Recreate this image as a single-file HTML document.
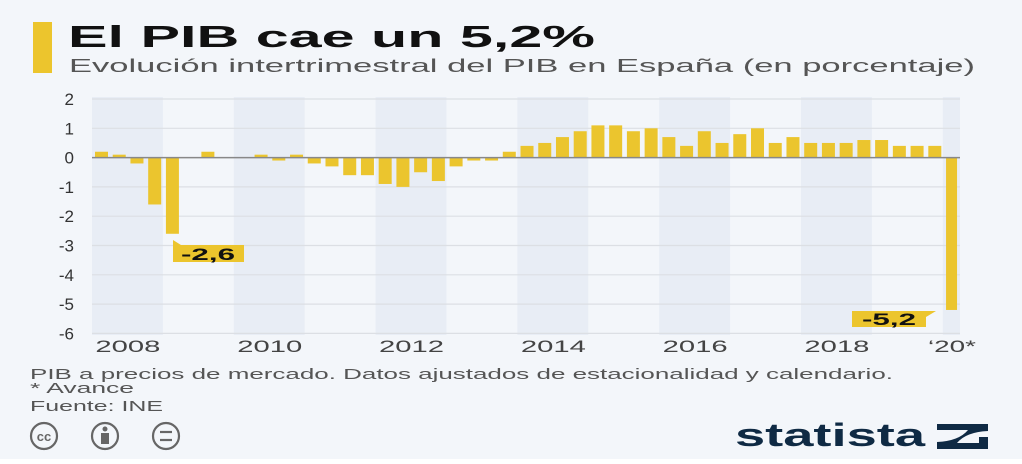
<!DOCTYPE html><html><head><meta charset="utf-8"><style>
body{margin:0;width:1022px;height:464px;background:#fff;overflow:hidden}
svg{display:block;font-family:"Liberation Sans",sans-serif}
</style></head><body>
<svg id="s" width="1022" height="464" xmlns="http://www.w3.org/2000/svg">
<rect width="1022" height="459" fill="#f3f6fa"/>
<rect x="33" y="22" width="19" height="51" fill="#ecc52d"/>
<text x="68" y="47" font-size="31" font-weight="bold" fill="#111" textLength="527" lengthAdjust="spacingAndGlyphs">El PIB cae un 5,2%</text>
<text x="69" y="72" font-size="18.5" fill="#555" textLength="906" lengthAdjust="spacingAndGlyphs">Evolución intertrimestral del PIB en España (en porcentaje)</text>
<g id="g"></g>
<text x="30" y="379" font-size="14.5" fill="#555" textLength="863" lengthAdjust="spacingAndGlyphs">PIB a precios de mercado. Datos ajustados de estacionalidad y calendario.</text>
<text x="30" y="393" font-size="14.5" fill="#555" textLength="104" lengthAdjust="spacingAndGlyphs">* Avance</text>
<text x="30" y="411" font-size="14.5" fill="#555" textLength="133" lengthAdjust="spacingAndGlyphs">Fuente: INE</text>
<g fill="none" stroke="#666" stroke-width="2.2">
<circle cx="44" cy="436" r="13"/><circle cx="105" cy="436" r="13"/><circle cx="166" cy="436" r="13"/>
<line x1="160" y1="432" x2="172" y2="432"/><line x1="160" y1="440" x2="172" y2="440"/></g>
<text x="44" y="441" font-size="13" font-weight="bold" fill="#666" text-anchor="middle">cc</text>
<circle cx="105" cy="429" r="2.5" fill="#666"/><rect x="101" y="433" width="8" height="11" fill="#666"/>
<text x="735" y="446" font-size="32" font-weight="bold" fill="#0f2a44" textLength="190" lengthAdjust="spacingAndGlyphs">statista</text>
<path d="M937 424h51v7q-22 1-31 12h22v-6h9v12h-51v-7q22-1 31-12h-31z" fill="#0f2a44"/>
</svg>
<script>
var v=[0.2,0.1,-0.2,-1.6,-2.6,0,0.2,0,0,0.1,-0.1,0.1,-0.2,-0.3,-0.6,-0.6,-0.9,-1.0,-0.5,-0.8,-0.3,-0.1,-0.1,0.2,0.4,0.5,0.7,0.9,1.1,1.1,0.9,1.0,0.7,0.4,0.9,0.5,0.8,1.0,0.5,0.7,0.5,0.5,0.5,0.6,0.6,0.4,0.4,0.4,-5.2];
var h='',u=29.3,z=157.6,L=92,Y=70.9;
for(var k=0;k<13;k+=2){var x=L+k*Y,w=Math.min(Y,960-x);h+='<rect x="'+x+'" y="97" width="'+w+'" height="238" fill="#e8edf5"/>';}
for(var t=2;t>=-6;t--){var y=z-t*u;h+='<line x1="92" x2="960" y1="'+y+'" y2="'+y+'" stroke="#dcdfe4" stroke-width="1.2"/>';h+='<text x="74" y="'+(y+6)+'" font-size="17" fill="#333" text-anchor="end">'+t+'</text>';}
for(var i=0;i<v.length;i++){if(!v[i])continue;var x=95+i*17.73,y=v[i]>0?z-v[i]*u:z;h+='<rect x="'+x+'" y="'+y+'" width="'+(i==48?11:13)+'" height="'+Math.abs(v[i])*u+'" fill="#ebc52e"/>';}
h+='<line x1="92" x2="960" y1="'+z+'" y2="'+z+'" stroke="#888" stroke-width="1.5"/>';
var yr=['2008','2010','2012','2014','2016','2018'];
for(var j=0;j<6;j++)h+='<text x="'+(L+j*2*Y+Y/2-32)+'" y="352" font-size="17" fill="#444" textLength="65" lengthAdjust="spacingAndGlyphs">'+yr[j]+'</text>';
h+='<text x="928" y="352" font-size="17" fill="#444" textLength="48" lengthAdjust="spacingAndGlyphs">‘20*</text>';
h+='<path d="M173 240l8 5h63v17h-71z" fill="#ecc52d"/><text x="181" y="260" font-size="17" font-weight="bold" fill="#111" textLength="54" lengthAdjust="spacingAndGlyphs">-2,6</text>';
h+='<path d="M852 311h84l-10 6v10h-74z" fill="#ecc52d"/><text x="862" y="325" font-size="17" font-weight="bold" fill="#111" textLength="54" lengthAdjust="spacingAndGlyphs">-5,2</text>';
document.getElementById('g').innerHTML=h;
</script>
</body></html>
